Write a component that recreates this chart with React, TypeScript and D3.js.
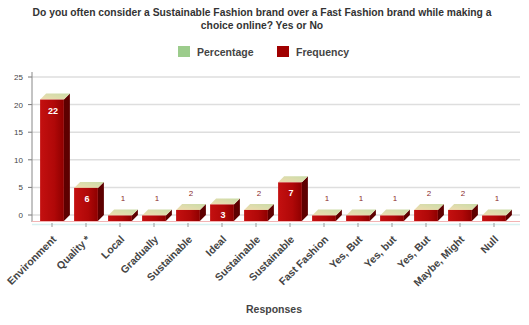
import React from "react";
import * as d3 from "d3";

const categories = [
  "Environment", "Quality *", "Local", "Gradually", "Sustainable", "Ideal",
  "Sustainable", "Sustainable", "Fast Fashion", "Yes, But", "Yes, but",
  "Yes, But", "Maybe, Might", "Null",
];
const frequency = [22, 6, 1, 1, 2, 3, 2, 7, 1, 1, 1, 2, 2, 1];
const yTicks = [0, 5, 10, 15, 20, 25];
const legendItems = ["Percentage", "Frequency"];
const titleLines = [
  "Do you often consider a Sustainable Fashion brand over a Fast Fashion brand while making a",
  "choice online? Yes or No",
];

const W = 529;
const H = 325;
const DEPTH = 6; // 3D offset of the back wall

export default function App() {
  const x = d3.scaleBand<string>()
    .domain(categories.map((c, i) => `${i}`))
    .range([35, 511])
    .paddingInner(0.3)
    .paddingOuter(0.15);
  const y = d3.scaleLinear().domain([0, 25]).range([215, 77]);
  const bw = x.bandwidth();
  const font = "Arial, 'Liberation Sans', sans-serif";

  return (
    <svg width={W} height={H} style={{ position: "absolute", left: 0, top: 0, background: "#fff" }}>
      <defs>
        <linearGradient id="front" x1="0" x2="1" y1="0" y2="0">
          <stop offset="0" stopColor="#c41010" />
          <stop offset="0.6" stopColor="#b00808" />
          <stop offset="1" stopColor="#8e0000" />
        </linearGradient>
        <linearGradient id="topFace" x1="0" x2="1" y1="1" y2="0">
          <stop offset="0" stopColor="#f0dcb0" />
          <stop offset="1" stopColor="#c9dca8" />
        </linearGradient>
      </defs>

      {titleLines.map((t, i) => (
        <text key={i} x={262} y={16 + i * 13} textAnchor="middle" fontFamily={font}
          fontSize={10.3} fontWeight="bold" fill="#333">{t}</text>
      ))}

      {/* legend */}
      {legendItems.map((l, i) => {
        const lx = [178, 277][i];
        return (
          <g key={l}>
            <rect x={lx} y={46} width={12} height={11} fill={i === 0 ? "#9ccc8c" : "#a00000"} />
            <text x={lx + 19} y={55.5} fontFamily={font} fontSize={10.5} fontWeight="bold" fill="#444">{l}</text>
          </g>
        );
      })}

      {/* back wall grid */}
      {yTicks.map((t) => (
        <g key={t}>
          <line x1={32} x2={520} y1={y(t)} y2={y(t)} stroke="#dedede" strokeWidth={1.5} />
          <line x1={28} x2={32} y1={y(t)} y2={y(t)} stroke="#777" />
          <text x={23} y={y(t) + 3} textAnchor="end" fontFamily={font} fontSize={8} fill="#444">{t}</text>
        </g>
      ))}
      <line x1={32} x2={32} y1={72} y2={222} stroke="#888" />
      {/* floor */}
      <line x1={32} x2={520} y1={221.5} y2={221.5} stroke="#f2b4b4" strokeWidth={1.2} />
      <line x1={32} x2={520} y1={224.5} y2={224.5} stroke="#d8f2f2" strokeWidth={1.5} />

      {frequency.map((v, i) => {
        const x0 = x(`${i}`)!;
        const yTop = y(v) + DEPTH;
        const yBase = y(0) + DEPTH;
        const inside = v >= 3;
        const cx = x0 + bw / 2;
        return (
          <g key={i}>
            {/* side face */}
            <path d={`M${x0 + bw},${yTop} L${x0 + bw + DEPTH},${yTop - DEPTH} L${x0 + bw + DEPTH},${yBase - DEPTH} L${x0 + bw},${yBase} Z`} fill="#5e0000" />
            {/* top face */}
            <path d={`M${x0},${yTop} L${x0 + DEPTH},${yTop - DEPTH} L${x0 + bw + DEPTH},${yTop - DEPTH} L${x0 + bw},${yTop} Z`} fill="url(#topFace)" />
            {/* front face */}
            <rect x={x0} y={yTop} width={bw} height={yBase - yTop} fill="url(#front)" />
            <line x1={cx} x2={cx} y1={yBase + 2} y2={yBase + 6} stroke="#999" />
            {inside ? (
              <text x={cx + 1} y={yTop + 14} textAnchor="middle" fontFamily={font} fontSize={9}
                fontWeight="bold" fill="#fff">{v}</text>
            ) : (
              <text x={cx + 3} y={yTop - DEPTH - 8} textAnchor="middle" fontFamily={font} fontSize={8}
                fill="#8a2a2a">{v}</text>
            )}
            <text transform={`translate(${cx + 5},${240}) rotate(-45)`} textAnchor="end"
              fontFamily={font} fontSize={10.5} fontWeight="bold" fill="#444">{categories[i]}</text>
          </g>
        );
      })}

      <text x={274} y={313} textAnchor="middle" fontFamily={font} fontSize={10.5} fontWeight="bold" fill="#444">Responses</text>
    </svg>
  );
}
